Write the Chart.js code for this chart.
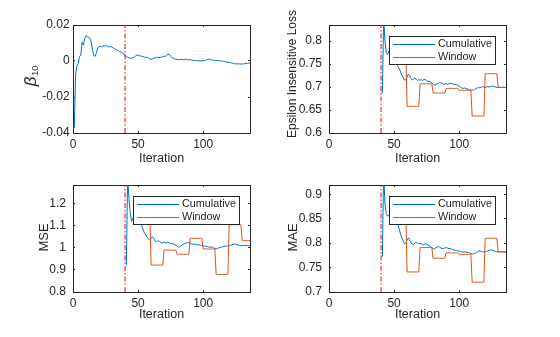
<!DOCTYPE html>
<html>
<head>
<meta charset="utf-8">
<script src="https://cdn.jsdelivr.net/npm/chart.js@4.4.0/dist/chart.umd.min.js"></script>
<style>
body { margin: 0; background: #fff; }
#fig { position: relative; width: 560px; height: 337px; }
canvas { position: absolute; }
</style>
</head>
<body>
<div id="fig">
<canvas id="beta" width="280" height="168" style="left:0;top:0"></canvas>
<canvas id="eps" width="280" height="168" style="left:280px;top:0"></canvas>
<canvas id="mse" width="280" height="169" style="left:0;top:168px"></canvas>
<canvas id="mae" width="280" height="169" style="left:280px;top:168px"></canvas>
</div>
<script>
// iteration where the window evaluation kicks in (red dash-dot line)
const changePoint = 40;
const lastIter = 136;

const betaIter = Array.from({length: lastIter}, (_, k) => k + 1);
const cumIter = Array.from({length: lastIter - 40}, (_, k) => k + 41);
const windowIter = Array.from({length: lastIter - 49}, (_, k) => k + 50);

const beta10 = [
  -0.0372, -0.0075, -0.0025, -0.0015, 0.0025, 0.0032, 0.0105, 0.0088, 0.0125, 0.0142,
  0.0135, 0.0131, 0.0127, 0.0105, 0.0062, 0.0030, 0.0026, 0.0045, 0.0072, 0.0080,
  0.0082, 0.0079, 0.0084, 0.0081, 0.0089, 0.0083, 0.0080, 0.0078, 0.0080, 0.0077,
  0.0072, 0.0068, 0.0063, 0.0060, 0.0057, 0.0052, 0.0049, 0.0045, 0.0041, 0.0028,
  0.0024, 0.0021, 0.0017, 0.0015, 0.0016, 0.0019, 0.0021, 0.0027, 0.0033, 0.0031,
  0.0028, 0.0029, 0.0025, 0.0024, 0.0022, 0.0020, 0.0021, 0.0016, 0.0012, 0.0010,
  0.0011, 0.0014, 0.0018, 0.0020, 0.0021, 0.0019, 0.0020, 0.0022, 0.0023, 0.0024,
  0.0027, 0.0033, 0.0037, 0.0036, 0.0026, 0.0018, 0.0015, 0.0012, 0.0010, 0.0009,
  0.0008, 0.0007, 0.0009, 0.0008, 0.0007, 0.0009, 0.0010, 0.0007, 0.0006, 0.0008,
  0.0005, 0.0003, 0.0004, 0.0002, 0.0003, 0.0001, 0.0000, 0.0001, 0.0000, 0.0002,
  0.0001, 0.0004, 0.0008, 0.0011, 0.0010, 0.0007, 0.0005, 0.0004, 0.0003, 0.0002,
  0.0003, 0.0001, 0.0000, 0.0001, -0.0001, -0.0002, -0.0004, -0.0006, -0.0006, -0.0008,
  -0.0009, -0.0011, -0.0012, -0.0015, -0.0016, -0.0015, -0.0017, -0.0016, -0.0017, -0.0016,
  -0.0017, -0.0015, -0.0013, -0.0014, -0.0012, -0.0011
];

const epsCum = [
  0.687, 0.850, 0.800, 0.775, 0.770, 0.778, 0.772, 0.768, 0.764, 0.760,
  0.756, 0.750, 0.744, 0.740, 0.733, 0.726, 0.720, 0.715, 0.716, 0.722,
  0.728, 0.725, 0.719, 0.715, 0.718, 0.720, 0.717, 0.714, 0.716, 0.715,
  0.716, 0.714, 0.717, 0.716, 0.714, 0.712, 0.713, 0.711, 0.709, 0.707,
  0.704, 0.705, 0.707, 0.708, 0.710, 0.709, 0.708, 0.706, 0.707, 0.707,
  0.706, 0.707, 0.708, 0.708, 0.707, 0.706, 0.705, 0.705, 0.704, 0.702,
  0.699, 0.698, 0.697, 0.698, 0.697, 0.696, 0.695, 0.694, 0.693, 0.694,
  0.693, 0.695, 0.697, 0.698, 0.699, 0.698, 0.700, 0.701, 0.700, 0.699,
  0.700, 0.701, 0.700, 0.701, 0.702, 0.702, 0.701, 0.700, 0.699, 0.699,
  0.700, 0.699, 0.699, 0.700, 0.699, 0.699
];
const epsWin = [
  0.780, 0.780, 0.780, 0.780, 0.780, 0.780, 0.780, 0.780, 0.780, 0.780,
  0.658, 0.658, 0.658, 0.658, 0.658, 0.658, 0.658, 0.658, 0.658, 0.658,
  0.707, 0.707, 0.707, 0.707, 0.707, 0.707, 0.707, 0.707, 0.707, 0.707,
  0.687, 0.687, 0.687, 0.687, 0.687, 0.687, 0.687, 0.687, 0.687, 0.687,
  0.697, 0.697, 0.697, 0.697, 0.697, 0.697, 0.697, 0.697, 0.697, 0.697,
  0.693, 0.693, 0.693, 0.693, 0.693, 0.693, 0.693, 0.693, 0.693, 0.693,
  0.637, 0.637, 0.637, 0.637, 0.637, 0.637, 0.637, 0.637, 0.637, 0.637,
  0.729, 0.729, 0.729, 0.729, 0.729, 0.729, 0.729, 0.729, 0.729, 0.729,
  0.699, 0.699, 0.699, 0.699, 0.699, 0.699, 0.699
];

const mseCum = [
  0.922, 1.330, 1.220, 1.160, 1.120, 1.135, 1.130, 1.125, 1.120, 1.118,
  1.112, 1.106, 1.098, 1.080, 1.066, 1.058, 1.048, 1.040, 1.036, 1.042,
  1.051, 1.045, 1.032, 1.029, 1.030, 1.033, 1.027, 1.021, 1.024, 1.025,
  1.022, 1.024, 1.027, 1.022, 1.018, 1.019, 1.017, 1.016, 1.012, 1.008,
  1.003, 1.005, 1.010, 1.015, 1.017, 1.020, 1.022, 1.024, 1.022, 1.020,
  1.017, 1.016, 1.018, 1.016, 1.015, 1.014, 1.013, 1.012, 1.011, 1.009,
  1.007, 1.008, 1.006, 1.004, 1.003, 1.004, 1.003, 1.000, 0.998, 0.995,
  0.997, 1.000, 1.002, 1.003, 1.005, 1.007, 1.008, 1.009, 1.008, 1.010,
  1.012, 1.014, 1.016, 1.018, 1.016, 1.014, 1.012, 1.011, 1.010, 1.011,
  1.012, 1.011, 1.010, 1.011, 1.010, 1.010
];
const mseWin = [
  1.170, 1.170, 1.170, 1.170, 1.170, 1.170, 1.170, 1.170, 1.170, 1.170,
  0.922, 0.922, 0.922, 0.922, 0.922, 0.922, 0.922, 0.922, 0.922, 0.922,
  0.990, 0.990, 0.990, 0.990, 0.990, 0.990, 0.990, 0.990, 0.990, 0.990,
  0.971, 0.971, 0.971, 0.971, 0.971, 0.971, 0.971, 0.971, 0.971, 0.971,
  1.043, 1.043, 1.043, 1.043, 1.043, 1.043, 1.043, 1.043, 1.043, 1.043,
  0.995, 0.995, 0.995, 0.995, 0.995, 0.995, 0.995, 0.995, 0.995, 0.995,
  0.879, 0.879, 0.879, 0.879, 0.879, 0.879, 0.879, 0.879, 0.879, 0.879,
  1.105, 1.105, 1.105, 1.105, 1.105, 1.105, 1.105, 1.105, 1.105, 1.105,
  1.033, 1.033, 1.033, 1.033, 1.033, 1.033, 1.033
];

const maeCum = [
  0.772, 0.950, 0.880, 0.860, 0.855, 0.858, 0.860, 0.856, 0.852, 0.849,
  0.846, 0.842, 0.838, 0.828, 0.818, 0.811, 0.804, 0.799, 0.800, 0.806,
  0.811, 0.806, 0.801, 0.798, 0.797, 0.800, 0.802, 0.800, 0.799, 0.800,
  0.798, 0.796, 0.797, 0.799, 0.797, 0.796, 0.795, 0.793, 0.791, 0.789,
  0.788, 0.790, 0.792, 0.793, 0.792, 0.790, 0.789, 0.789, 0.790, 0.791,
  0.790, 0.789, 0.789, 0.788, 0.787, 0.786, 0.785, 0.785, 0.784, 0.784,
  0.783, 0.782, 0.782, 0.782, 0.782, 0.781, 0.781, 0.780, 0.779, 0.778,
  0.778, 0.779, 0.781, 0.782, 0.784, 0.784, 0.783, 0.782, 0.782, 0.782,
  0.783, 0.784, 0.785, 0.786, 0.786, 0.785, 0.784, 0.783, 0.782, 0.782,
  0.783, 0.782, 0.782, 0.782, 0.782, 0.782
];
const maeWin = [
  0.865, 0.865, 0.865, 0.865, 0.865, 0.865, 0.865, 0.865, 0.865, 0.865,
  0.741, 0.741, 0.741, 0.741, 0.741, 0.741, 0.741, 0.741, 0.741, 0.741,
  0.791, 0.791, 0.791, 0.791, 0.791, 0.791, 0.791, 0.791, 0.791, 0.791,
  0.769, 0.769, 0.769, 0.769, 0.769, 0.769, 0.769, 0.769, 0.769, 0.769,
  0.780, 0.780, 0.780, 0.780, 0.780, 0.780, 0.780, 0.780, 0.780, 0.780,
  0.777, 0.777, 0.777, 0.777, 0.777, 0.777, 0.777, 0.777, 0.777, 0.777,
  0.720, 0.720, 0.720, 0.720, 0.720, 0.720, 0.720, 0.720, 0.720, 0.720,
  0.810, 0.810, 0.810, 0.810, 0.810, 0.810, 0.810, 0.810, 0.810, 0.810,
  0.782, 0.782, 0.782, 0.782, 0.782, 0.782, 0.782
];

const xTicks = [0, 50, 100];

const ink = '#262626';
const blue = '#0072BD';
const orange = '#D95319';
const fontFamily = '"Liberation Sans", Arial, sans-serif';

const pts = (xs, ys) => xs.map((x, k) => ({x: x, y: ys[k]}));
// MATLAB style tick text: 0.6 not 0.60, 1 not 1.0
const tickText = v => String(Math.round(v * 1e6) / 1e6);

// MATLAB style legend box drawn inside the axes
const boxLegend = {
  id: 'boxLegend',
  afterDatasetsDraw(chart) {
    const items = chart.data.datasets.filter(d => d.label);
    if (!items.length) return;
    const ctx = chart.ctx, a = chart.chartArea;
    const w = 106, h = 28;
    const left = Math.round(a.right - 11 - w), top = Math.round(a.top + 11);
    ctx.save();
    ctx.fillStyle = '#fff';
    ctx.fillRect(left, top, w, h);
    ctx.strokeStyle = ink;
    ctx.lineWidth = 1;
    ctx.strokeRect(left + 0.5, top + 0.5, w, h);
    ctx.font = '10.8px ' + fontFamily;
    ctx.textBaseline = 'middle';
    items.forEach((d, k) => {
      const y = top + 8.5 + k * 13;
      ctx.strokeStyle = d.borderColor;
      ctx.beginPath();
      ctx.moveTo(left + 4, y);
      ctx.lineTo(left + 46, y);
      ctx.stroke();
      ctx.fillStyle = ink;
      ctx.fillText(d.label, left + 49, y);
    });
    ctx.restore();
  }
};

// rotated y label, optional italic symbol with subscript (beta_10)
const yLabel = {
  id: 'yLabel',
  afterDraw(chart, args, o) {
    if (!o.text) return;
    const ctx = chart.ctx;
    ctx.save();
    ctx.translate(o.x, o.y);
    ctx.rotate(-Math.PI / 2);
    ctx.fillStyle = ink;
    ctx.textBaseline = 'middle';
    if (o.sub) {
      ctx.font = 'italic ' + o.size + 'px ' + fontFamily;
      const w1 = ctx.measureText(o.text).width;
      ctx.font = o.subSize + 'px ' + fontFamily;
      const w2 = ctx.measureText(o.sub).width;
      const start = -(w1 + w2) / 2;
      ctx.textAlign = 'left';
      ctx.font = 'italic ' + o.size + 'px ' + fontFamily;
      ctx.fillText(o.text, start, 0);
      ctx.font = o.subSize + 'px ' + fontFamily;
      ctx.fillText(o.sub, start + w1 + 0.5, 4);
    } else {
      ctx.textAlign = 'center';
      ctx.font = o.size + 'px ' + fontFamily;
      ctx.fillText(o.text, 0, 0);
    }
    ctx.restore();
  }
};

function makePanel(id, p) {
  const datasets = [];
  if (p.window) {
    datasets.push({label: 'Cumulative', data: pts(cumIter, p.values), borderColor: blue, order: 1});
    datasets.push({label: 'Window', data: pts(windowIter, p.window), borderColor: orange, order: 0});
  } else {
    datasets.push({data: pts(betaIter, p.values), borderColor: blue, order: 1});
  }
  datasets.push({
    data: [{x: changePoint, y: p.yMin}, {x: changePoint, y: p.yMax}],
    borderColor: '#ff0000', borderDash: [5, 2, 1.5, 2], order: 2
  });

  const tickFont = {family: fontFamily, size: 12};
  const labelFont = {family: fontFamily, size: 12.5};
  const xTickOpts = {stepSize: 50, includeBounds: false, maxRotation: 0, color: ink, font: tickFont, padding: 6, callback: tickText};
  const yTickOpts = {stepSize: p.yStep, includeBounds: false, color: ink, font: tickFont, padding: p.yTickPad, callback: tickText};
  const grid = {drawOnChartArea: false, tickLength: -2, color: ink};
  const border = {color: ink, width: 1};

  new Chart(document.getElementById(id), {
    type: 'line',
    data: {datasets: datasets},
    options: {
      responsive: false,
      animation: false,
      devicePixelRatio: 1,
      layout: {padding: p.pad},
      elements: {point: {radius: 0}, line: {borderWidth: 1, tension: 0}},
      plugins: {legend: {display: false}, tooltip: {enabled: false}, yLabel: p.yLabel},
      scales: {
        x: {
          type: 'linear', position: 'bottom', min: 0, max: lastIter,
          ticks: xTickOpts, grid: grid, border: border,
          title: {display: true, text: 'Iteration', color: ink, font: labelFont, padding: {top: 0, bottom: p.xTitlePad}},
          afterBuildTicks: s => { s.ticks = xTicks.map(v => ({value: v})); },
          afterFit: s => { s.height = 35; }
        },
        x2: {
          type: 'linear', position: 'top', min: 0, max: lastIter,
          ticks: Object.assign({}, xTickOpts, {display: false}), grid: grid, border: border,
          afterBuildTicks: s => { s.ticks = xTicks.map(v => ({value: v})); },
          afterFit: s => { s.height = 0; }
        },
        y: {
          type: 'linear', position: 'left', min: p.yMin, max: p.yMax,
          ticks: yTickOpts, grid: grid, border: border,
          afterFit: s => { s.width = p.yWidth; }
        },
        y2: {
          type: 'linear', position: 'right', min: p.yMin, max: p.yMax,
          ticks: Object.assign({}, yTickOpts, {display: false}), grid: grid, border: border,
          afterFit: s => { s.width = 0; }
        }
      }
    },
    plugins: p.window ? [boxLegend, yLabel] : [yLabel]
  });
}

makePanel('beta', {
  values: beta10, yMin: -0.04, yMax: 0.02, yStep: 0.02,
  yWidth: 73, yTickPad: 5.3, xTitlePad: 1.8,
  yLabel: {text: 'β', sub: '10', size: 17, subSize: 9.5, x: 31, y: 76},
  pad: {left: 0, top: 25, right: 30, bottom: 0}
});
makePanel('eps', {
  values: epsCum, window: epsWin, yMin: 0.6, yMax: 0.835, yStep: 0.05,
  yWidth: 49, yTickPad: 9, xTitlePad: 1.8,
  yLabel: {text: 'Epsilon Insensitive Loss', size: 12, x: 12.8, y: 74},
  pad: {left: 0, top: 25, right: 54, bottom: 0}
});
makePanel('mse', {
  values: mseCum, window: mseWin, yMin: 0.8, yMax: 1.285, yStep: 0.1,
  yWidth: 73, yTickPad: 9, xTitlePad: 4.8,
  yLabel: {text: 'MSE', size: 13, x: 44.3, y: 69.5},
  pad: {left: 0, top: 17, right: 30, bottom: 10}
});
makePanel('mae', {
  values: maeCum, window: maeWin, yMin: 0.7, yMax: 0.919, yStep: 0.05,
  yWidth: 49, yTickPad: 9, xTitlePad: 4.8,
  yLabel: {text: 'MAE', size: 13, x: 13.3, y: 69.5},
  pad: {left: 0, top: 17, right: 54, bottom: 10}
});
</script>
</body>
</html>
